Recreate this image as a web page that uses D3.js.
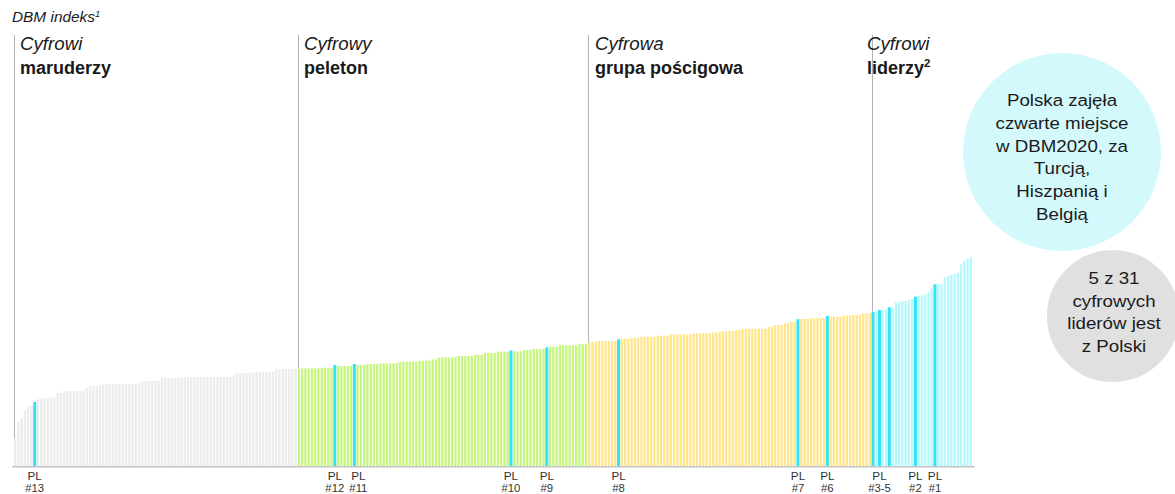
<!DOCTYPE html>
<html lang="pl">
<head>
<meta charset="utf-8">
<script src="https://cdn.jsdelivr.net/npm/d3@7"></script>
<style>
  html, body { margin: 0; padding: 0; background: #fff; }
  svg { display: block; font-family: "Liberation Sans", Arial, sans-serif; }
</style>
</head>
<body>
<svg id="chart" width="1175" height="494"></svg>
<script>
// DBM index per company, sorted ascending within each segment
const laggards = [
  28, 44, 47, 56, 59, 61, 64, 67, 67, 68, 68, 68, 69, 73, 73,
  74.5, 75, 75, 75, 75, 75, 75.5, 78, 80, 80, 80, 80.5,
  81.5, 82, 82, 82, 82, 82, 82, 82, 82, 82, 82, 82.5,
  85, 85, 85, 85, 85, 85.5,
  88, 88, 88, 88, 88, 88, 88, 88.5,
  89, 89, 89, 89, 89, 89, 89, 89, 89, 89, 89, 89, 89, 89, 89.5,
  93, 93, 93, 93, 93, 93.5,
  94, 94, 94, 94, 94, 94.5,
  97, 97, 97, 97, 97, 97, 97.5
];
const peloton = [
  97.5, 97.5, 97.7, 97.7, 97.7, 97.7, 97.8, 97.8, 98, 98, 98,
  101, 100, 100, 100, 100, 100, 102, 101, 101, 101,
  102, 102, 102, 102, 102.7, 102.7, 102.7, 102.7, 102.7, 102.7,
  104.3, 104.3, 104.3, 104.3, 104.3, 104.3, 105.3, 105.3, 105.3, 105.3,
  106.7, 106.7, 108.5, 108.5, 108.5, 108.5, 108.5, 108.5,
  110, 110, 110, 110, 110, 111.3, 111.3, 111.3,
  113, 113, 113, 113, 114.3, 114.3, 114.3, 114.3,
  115.5, 114.7, 114.7, 114.7, 116, 116, 116, 117, 117, 117, 117,
  118.7, 119.3, 119.3, 119.3, 120.7, 120.7, 120.7, 120.7, 120.7, 120.7,
  122, 122, 122
];
const chasers = [
  123.7, 124, 124.5, 125, 125, 125, 125, 125, 125,
  126.7, 127.3, 127.3, 127.3, 128.3, 128.3, 128.3,
  129.3, 129.3, 129.3, 129.3, 129.3, 130.3, 130.3, 130.3, 130.3,
  131.7, 131.7, 131.7, 131.7, 131.7, 131.7, 131.7,
  132.7, 132.7, 132.7, 132.7, 132.7, 132.7, 133.7, 133.7, 133.7,
  135, 135, 135, 135, 136, 136,
  137.3, 137.3, 137.3, 137.3, 137.3, 137.3, 137.3, 137.3,
  139, 139, 141, 141, 141, 142.7, 142.7, 144.3, 144.3,
  146.7, 147, 147, 147, 148, 148, 148, 148, 148,
  150, 149.3, 149.3, 149.3, 149.3, 150.5, 150.5, 150.5,
  151.3, 151.3, 151.3, 152.7, 152.7, 152.7
];
const leaders = [
  154, 154.5, 156, 156.5, 156.7, 158.7, 158, 163.3, 164.5, 164.7, 165,
  166, 167, 169.3, 170.3, 170.5, 171.5, 174, 177.7, 181.7, 181.7, 182,
  188.3, 190, 191, 192, 193, 201.5, 205.5, 207.5, 208.3
];

// Segment headers: italic first line, bold second line
const segmentNames = ["Cyfrowi", "Cyfrowy", "Cyfrowa", "Cyfrowi"];
const segmentTitles = ["maruderzy", "peleton", "grupa pościgowa", "liderzy"];
const segmentColors = ["#ececec", "#c6f67f", "#ffe68d", "#b6f8fd"];
const polishColor = "#35e4f4";

// Positions (overall rank) of Polish companies and their labels
const polishBars = [6, 98, 104, 152, 163, 185, 240, 249, 263, 265, 268, 276, 282];
const polishLabelBars = [6, 98, 104, 152, 163, 185, 240, 249, 265, 276, 282];
const polishLabelRanks = ["#13", "#12", "#11", "#10", "#9", "#8", "#7", "#6", "#3-5", "#2", "#1"];

const bubbleMain = ["Polska zajęła", "czwarte miejsce", "w DBM2020, za", "Turcją,", "Hiszpanią i", "Belgią"];
const bubbleSide = ["5 z 31", "cyfrowych", "liderów jest", "z Polski"];

// ---- build a flat table from the segment arrays ----
const segments = [laggards, peloton, chasers, leaders];
const rows = [];
const segStart = [];
segments.forEach((arr, s) => {
  segStart.push(rows.length);
  arr.forEach(v => rows.push({ rank: rows.length, value: v, seg: s }));
});
const plSet = new Set(polishBars);

const svg = d3.select("#chart");
const baseY = 466;

const x = d3.scaleBand()
  .domain(rows.map(d => d.rank))
  .range([14, 972])
  .paddingInner(0.3)
  .paddingOuter(0);

const y = d3.scaleLinear()
  .domain([0, 210])
  .range([baseY, 256]);

// text helper with horizontal stretch (the typeface here runs slightly wide)
function label(parent, tx, ty, str, opt) {
  const g = parent.append("g")
    .attr("transform", `translate(${tx},${ty}) scale(${opt.sx || 1},1)`);
  return g.append("text")
    .attr("x", 0).attr("y", 0)
    .attr("text-anchor", opt.anchor || "start")
    .attr("font-size", opt.size)
    .attr("font-style", opt.italic ? "italic" : "normal")
    .attr("font-weight", opt.bold ? "bold" : "normal")
    .attr("fill", opt.fill || "#1a1a1a")
    .text(str);
}

// ---- segment separators ----
svg.append("g").selectAll("line")
  .data(segStart)
  .join("line")
  .attr("x1", d => Math.round(x(d)) + 0.5)
  .attr("x2", d => Math.round(x(d)) + 0.5)
  .attr("y1", 35)
  .attr("y2", baseY)
  .attr("stroke", "#b4b4b4")
  .attr("stroke-width", 1);

// ---- bars (Polish companies highlighted, drawn a touch wider) ----
const extra = (x.step() - x.bandwidth()) * 0.8;
svg.append("g").selectAll("rect")
  .data(rows)
  .join("rect")
  .attr("x", d => plSet.has(d.rank) ? x(d.rank) - extra / 2 : x(d.rank))
  .attr("width", d => plSet.has(d.rank) ? x.bandwidth() + extra : x.bandwidth())
  .attr("y", d => y(d.value))
  .attr("height", d => y(0) - y(d.value))
  .attr("fill", d => plSet.has(d.rank) ? polishColor : segmentColors[d.seg]);

// ---- baseline ----
svg.append("line")
  .attr("x1", 12).attr("x2", 975)
  .attr("y1", baseY + 0.75).attr("y2", baseY + 0.75)
  .attr("stroke", "#c4c4c4")
  .attr("stroke-width", 1.5);

// ---- title ----
const title = label(svg, 12, 22, "DBM indeks", { size: 14, italic: true, sx: 1.1 });
title.append("tspan").attr("font-size", 8.5).attr("dy", -5.5).text("1");

// ---- segment headers ----
const headerX = [20, 304, 595, 867];
segmentNames.forEach((n, i) => {
  label(svg, headerX[i], 50, n, { size: 18, italic: true, sx: 1.04 });
  const t = label(svg, headerX[i], 74, segmentTitles[i], { size: 18, bold: true, sx: 1.0 });
  if (i === 3) t.append("tspan").attr("font-size", 11.5).attr("dy", -7).text("2");
});

// ---- Polish company labels ----
const labelNudge = { 104: 4 };
const lab = svg.append("g");
polishLabelBars.forEach((b, i) => {
  const cx = x(b) + x.bandwidth() / 2 + (labelNudge[b] || 0);
  label(lab, cx, 480, "PL", { size: 10.5, anchor: "middle", sx: 1.12, fill: "#333" });
  label(lab, cx, 491.5, polishLabelRanks[i], { size: 10.5, anchor: "middle", sx: 1.08, fill: "#333" });
});

// ---- bubbles ----
svg.append("circle")
  .attr("cx", 1062).attr("cy", 152).attr("r", 99)
  .attr("fill", "#d4f9fd");
svg.append("circle")
  .attr("cx", 1113).attr("cy", 316).attr("r", 67)
  .attr("fill", "#e0e0e0")
  .attr("stroke", "#fff").attr("stroke-width", 2);

bubbleMain.forEach((s, i) => {
  label(svg, 1062, 106 + i * 22.8, s, { size: 17, anchor: "middle", sx: 1.1 });
});
bubbleSide.forEach((s, i) => {
  label(svg, 1114, 284 + i * 22.6, s, { size: 17, anchor: "middle", sx: 1.1 });
});
</script>
</body>
</html>
